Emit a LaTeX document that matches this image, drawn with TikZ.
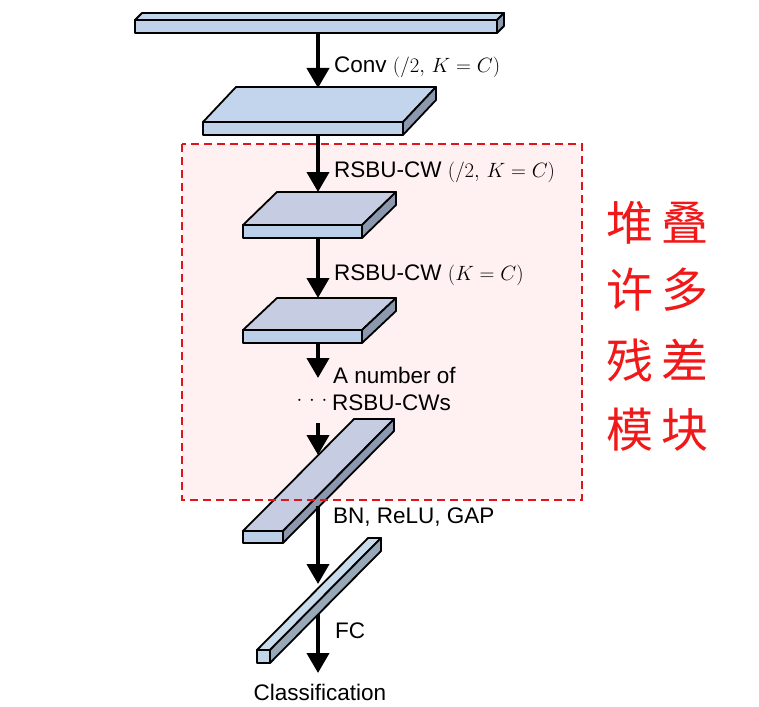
\documentclass[tikz,border=0pt]{standalone}
\usepackage{fontspec}
\setmainfont{Liberation Sans}
\newfontfamily\cjk{Noto Sans CJK SC}
\usetikzlibrary{arrows.meta}
\definecolor{frontA}{HTML}{BFD2EA}
\definecolor{topA}{HTML}{C3D5EC}
\definecolor{topB}{HTML}{C6CCE1}
\definecolor{frontB}{HTML}{BCCFE8}
\definecolor{sideA}{HTML}{8C98AE}
\definecolor{fcfront}{HTML}{C2D6EA}
\definecolor{fctop}{HTML}{C8DCEC}
\definecolor{fcside}{HTML}{98A8B8}
\definecolor{regionfill}{HTML}{FFF1F1}
\definecolor{regionline}{HTML}{E0151B}
\definecolor{cjkred}{HTML}{F01818}
\newcommand\cuboidbox[9]{%
 \filldraw[boxline,fill=#8] (#1,#2) -- ++(#5,-#6) -- ++(#3,0) -- ++(-#5,#6) -- cycle;
 \filldraw[boxline,fill=#9] (#1+#3,#2) -- ++(#5,-#6) -- ++(0,#4) -- ++(-#5,#6) -- cycle;
 \filldraw[boxline,fill=#7] (#1,#2) rectangle ++(#3,#4);
}
\newcommand\mth[1]{{\fontsize{21.5bp}{27bp}\selectfont$#1$}}
\tikzset{
 boxline/.style={draw=black,line width=1.8bp,line join=round},
 arr/.style={line width=4bp,-{Triangle[length=20bp,width=22bp]}},
 lbl/.style={anchor=base west,inner sep=0pt,font=\fontsize{22.5bp}{27bp}\selectfont},
 cj/.style={anchor=center,inner sep=0pt,text=cjkred,font=\cjk\fontsize{47bp}{50bp}\selectfont},
}
\begin{document}
\begin{tikzpicture}[x=1bp,y=-1bp]
\path[use as bounding box,fill=white] (0,0) rectangle (759,707);
% region background
\fill[regionfill] (182,144) rectangle (582,500);
% coordinates for connectors
\coordinate (a1s) at (318,33);  \coordinate (a1e) at (318,88);
\coordinate (a2s) at (318,135); \coordinate (a2e) at (318,192);
\coordinate (a3s) at (318,238); \coordinate (a3e) at (318,298);
\coordinate (a4s) at (318,343); \coordinate (a4e) at (318,378);
\coordinate (a5s) at (318,423); \coordinate (a5e) at (318,455);
\coordinate (a6s) at (318,506); \coordinate (a6e) at (318,584);
\coordinate (a7s) at (318,600); \coordinate (a7e) at (318,673);
% box 1
\cuboidbox{135}{20}{362}{13}{7}{7}{frontA}{topA}{sideA}
\draw[arr] (a1s) -- (a1e);
% box 2
\cuboidbox{203}{122}{200}{13}{33}{35}{frontA}{topA}{sideA}
\draw[arr] (a2s) -- (a2e);
% box 3
\cuboidbox{243}{225}{119}{13}{34}{33}{frontB}{topB}{sideA}
\draw[arr] (a3s) -- (a3e);
% box 4
\cuboidbox{243}{330}{119}{13}{34}{32}{frontB}{topB}{sideA}
\draw[arr] (a4s) -- (a4e);
% box 5
\cuboidbox{243}{531}{40}{12}{111}{112}{frontB}{topB}{sideA}
\draw[arr] (a5s) -- (a5e);
\draw[arr] (a6s) -- (a6e);
% region border
\draw[regionline,line width=2bp,dash pattern=on 8bp off 5bp] (182,144) rectangle (582,500);
% FC
\draw[arr] (a7s) -- (a7e);
\cuboidbox{257}{650}{13}{13}{111}{112}{fcfront}{fctop}{fcside}
% labels
\node[lbl] (l1) at (334,73) {Conv \mth{(/2,\,K=C)}};
\node[lbl] (l2) at (334,177) {RSBU-CW \mth{(/2,\,K=C)}};
\node[lbl] (l3) at (334,280) {RSBU-CW \mth{(K=C)}};
\node[lbl] (l4) at (333,383) {A number of};
\node[lbl] (l5) at (332,410) {RSBU-CWs};
\node[anchor=center,inner sep=0pt,font=\fontsize{22.5bp}{27bp}\selectfont] (dots) at (312,401) {$\cdot\mkern2mu\cdot\mkern2mu\cdot$};
\node[lbl] (l6) at (333,523) {BN, ReLU, GAP};
\node[lbl] (l7) at (335,638) {FC};
\node[anchor=base,inner sep=0pt,font=\fontsize{22.5bp}{27bp}\selectfont] (l8) at (320,700) {Classification};
% chinese
\node[cj] (c1) at (630,223) {堆};
\node[cj] (c2) at (685,223) {叠};
\node[cj] (c3) at (630,290) {许};
\node[cj] (c4) at (685,290) {多};
\node[cj] (c5) at (630,360) {残};
\node[cj] (c6) at (685,360) {差};
\node[cj] (c7) at (630,430) {模};
\node[cj] (c8) at (685,430) {块};
\end{tikzpicture}
\end{document}
